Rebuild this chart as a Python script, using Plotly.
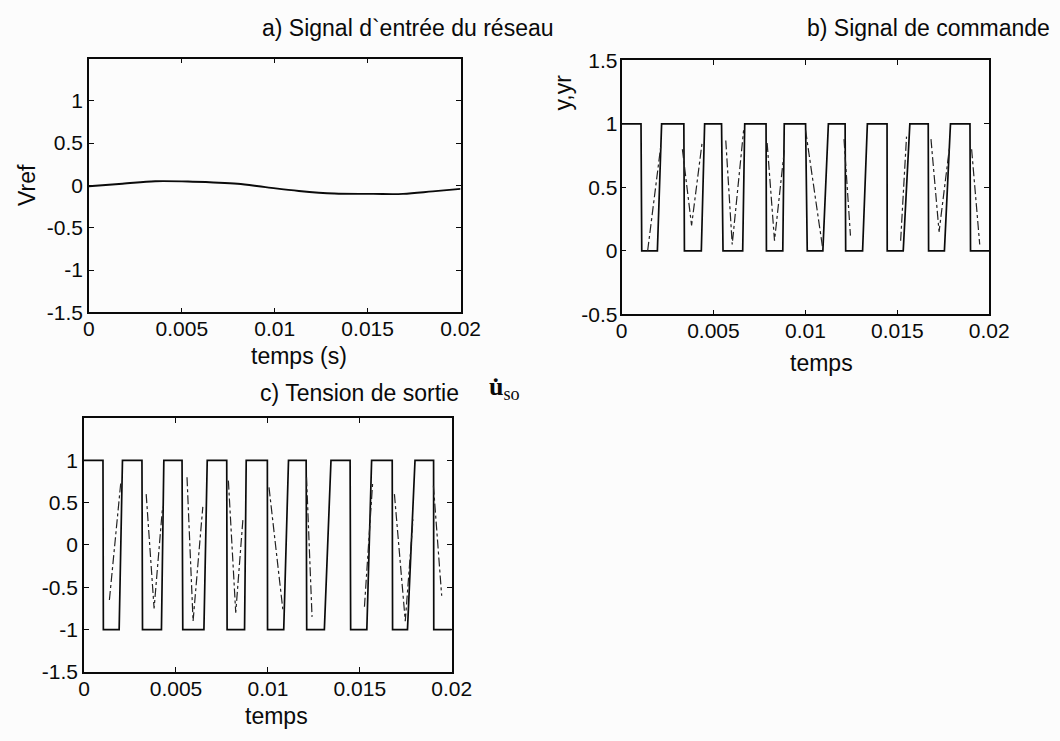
import plotly.graph_objects as go

# ---- a) network input signal Vref ----
t_vref = [0.0, 0.0018, 0.00357, 0.00532, 0.0067, 0.0080, 0.0095, 0.0113,
          0.0132, 0.0153, 0.0169, 0.0185, 0.0200]
vref = [-0.01, 0.02, 0.05, 0.046, 0.035, 0.02, -0.02, -0.065,
        -0.096, -0.10, -0.10, -0.07, -0.04]

# ---- b) command signal y (solid) and yr (dash-dot) ----
t_y = [0.0, 0.00106, 0.00110, 0.00195, 0.00218, 0.00339, 0.00342, 0.00434,
       0.00452, 0.00544, 0.00552, 0.00659, 0.00670, 0.00786, 0.00788, 0.00877,
       0.00885, 0.01001, 0.01010, 0.01095, 0.01125, 0.01216, 0.01219, 0.01311,
       0.01337, 0.01444, 0.01445, 0.01532, 0.01568, 0.01668, 0.01670, 0.01756,
       0.01789, 0.01895, 0.01898, 0.02000]
y_cmd = [1, 1, 0, 0, 1, 1, 0, 0,
         1, 1, 0, 0, 1, 1, 0, 0,
         1, 1, 0, 0, 1, 1, 0, 0,
         1, 1, 0, 0, 1, 1, 0, 0,
         1, 1, 0, 0]

t_yr = [0.00142, 0.00213, None,
        0.00331, 0.00381, 0.00438, None,
        0.00567, 0.00602, 0.00664, None,
        0.00792, 0.00832, 0.00886, None,
        0.01001, 0.01093, None,
        0.01210, 0.01245, None,
        0.01518, 0.01550, None,
        0.01683, 0.01727, 0.01784, None,
        0.01904, 0.01948]
yr = [0.00, 0.82, None,
      0.80, 0.20, 0.85, None,
      0.87, 0.05, 0.95, None,
      0.85, 0.08, 0.80, None,
      0.95, 0.03, None,
      0.88, 0.12, None,
      0.08, 0.90, None,
      0.88, 0.15, 0.82, None,
      0.80, 0.05]

# ---- c) output voltage u_so (solid) and reference (dash-dot) ----
t_u = [0.0, 0.00103, 0.00105, 0.00191, 0.00209, 0.00315, 0.00318, 0.00421,
       0.00434, 0.00533, 0.00537, 0.00652, 0.00670, 0.00776, 0.00778, 0.00873,
       0.00882, 0.00997, 0.00998, 0.01086, 0.01112, 0.01208, 0.01211, 0.01307,
       0.01343, 0.01447, 0.01450, 0.01538, 0.01564, 0.01676, 0.01678, 0.01759,
       0.01800, 0.01901, 0.01902, 0.02000]
u_so = [1, 1, -1, -1, 1, 1, -1, -1,
        1, 1, -1, -1, 1, 1, -1, -1,
        1, 1, -1, -1, 1, 1, -1, -1,
        1, 1, -1, -1, 1, 1, -1, -1,
        1, 1, -1, -1]

t_uref = [0.00138, 0.00200, None,
          0.00338, 0.00381, 0.00427, None,
          0.00560, 0.00593, 0.00646, None,
          0.00785, 0.00825, 0.00864, None,
          0.01006, 0.01081, None,
          0.01210, 0.01240, None,
          0.01525, 0.01570, None,
          0.01688, 0.01747, 0.01789, None,
          0.01900, 0.01945]
u_ref = [-0.65, 0.74, None,
         0.60, -0.75, 0.45, None,
         0.80, -0.90, 0.45, None,
         0.76, -0.80, 0.30, None,
         0.68, -0.76, None,
         0.80, -0.85, None,
         -0.73, 0.75, None,
         0.60, -0.90, 0.30, None,
         0.70, -0.60]

# tick values / labels
x_ticks = [0, 0.005, 0.01, 0.015, 0.02]
x_ticktext = ["0", "0.005", "0.01", "0.015", "0.02"]
ya_ticks = [-1.5, -1, -0.5, 0, 0.5, 1]
ya_ticktext = ["-1.5", "-1", "-0.5", "0", "0.5", "1"]
yb_ticks = [-0.5, 0, 0.5, 1, 1.5]
yb_ticktext = ["-0.5", "0", "0.5", "1", "1.5"]
yc_ticks = [-1.5, -1, -0.5, 0, 0.5, 1]
yc_ticktext = ["-1.5", "-1", "-0.5", "0", "0.5", "1"]

W, H = 1060, 741
FONT = "Liberation Sans Narrow, Arial Narrow, Liberation Sans, Arial, sans-serif"
SERIF = "Liberation Serif, Times New Roman, serif"
INK = "#0a0a0a"


def px_x(x):
    return x / W


def px_y(y):
    return 1 - y / H


fig = go.Figure()

solid = dict(color=INK, width=1.7)
dashdot = dict(color="#222222", width=1.2, dash="dashdot")

fig.add_trace(go.Scatter(x=t_vref, y=vref, mode="lines",
                         line=dict(color=INK, width=1.9, shape="spline"),
                         xaxis="x", yaxis="y", showlegend=False))
fig.add_trace(go.Scatter(x=t_y, y=y_cmd, mode="lines", line=solid,
                         xaxis="x2", yaxis="y2", showlegend=False))
fig.add_trace(go.Scatter(x=t_yr, y=yr, mode="lines", line=dashdot, connectgaps=False,
                         xaxis="x2", yaxis="y2", showlegend=False))
fig.add_trace(go.Scatter(x=t_u, y=u_so, mode="lines", line=solid,
                         xaxis="x3", yaxis="y3", showlegend=False))
fig.add_trace(go.Scatter(x=t_uref, y=u_ref, mode="lines", line=dashdot, connectgaps=False,
                         xaxis="x3", yaxis="y3", showlegend=False))

axis_common = dict(showline=True, linecolor=INK, linewidth=1.6, mirror="ticks",
                   ticks="inside", ticklen=5, tickwidth=1.2, tickcolor=INK,
                   showgrid=False, zeroline=False,
                   tickfont=dict(family=FONT, size=21, color=INK))


def xax(domain, anchor):
    return dict(axis_common, domain=domain, anchor=anchor, range=[0, 0.02],
                tickvals=x_ticks, ticktext=x_ticktext, ticklabelstandoff=-3)


def yax(domain, anchor, rng, vals, text, standoff=0):
    return dict(axis_common, domain=domain, anchor=anchor, range=rng,
                tickvals=vals, ticktext=text, ticklabelstandoff=standoff)


fig.update_layout(
    width=W, height=H,
    margin=dict(l=0, r=0, t=0, b=0),
    paper_bgcolor="#fcfcfc", plot_bgcolor="#fcfcfc",
    xaxis=xax([px_x(85), px_x(466)], "y"),
    yaxis=yax([px_y(310), px_y(48)], "x", [-1.5, 1.5], ya_ticks, ya_ticktext),
    xaxis2=xax([px_x(631), px_x(1008)], "y2"),
    yaxis2=yax([px_y(312), px_y(50)], "x2", [-0.5, 1.5], yb_ticks, yb_ticktext, standoff=-2),
    xaxis3=xax([px_x(80), px_x(457)], "y3"),
    yaxis3=yax([px_y(681), px_y(419)], "x3", [-1.5, 1.5], yc_ticks, yc_ticktext),
)

ann_font = dict(family=FONT, size=23, color=INK)
lbl_font = dict(family=FONT, size=23, color=INK)


def note(text, x, y, font, **kw):
    fig.add_annotation(text=text, x=px_x(x), y=px_y(y), xref="paper", yref="paper",
                       showarrow=False, font=font, xanchor="center", yanchor="middle", **kw)


note("a) Signal d`entrée du réseau", 412, 16, ann_font)
note("b) Signal de commande", 946, 16, ann_font)
note("c) Tension de sortie", 362, 393, ann_font)
note("<b>u\u0307</b><sub>so</sub>", 511, 388, dict(family=SERIF, size=26, color=INK))
note("Vref", 22, 178, lbl_font, textangle=-90)
note("y,yr", 571, 83, lbl_font, textangle=-90)
note("temps (s)", 300, 355, lbl_font)
note("temps", 836, 362, lbl_font)
note("temps", 277, 727, lbl_font)

fig.write_html("out.html")
